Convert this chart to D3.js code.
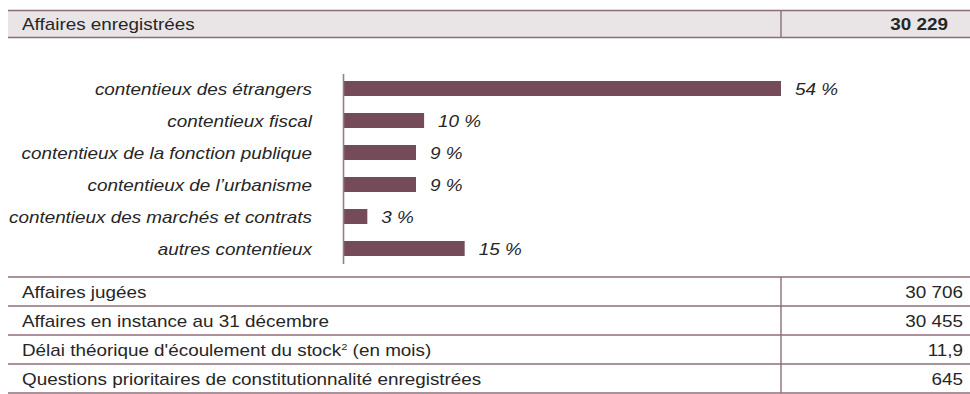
<!DOCTYPE html>
<html>
<head>
<meta charset="utf-8">
<script src="https://cdn.jsdelivr.net/npm/d3@7"></script>
<style>
  html, body { margin: 0; padding: 0; background: #ffffff; }
  svg { display: block; font-family: "Liberation Sans", Arial, sans-serif; }
</style>
</head>
<body>
<svg id="chart" width="970" height="394"></svg>
<script>
// Header row
const headerLabel = "Affaires enregistrées";
const headerValue = "30 229";

// Breakdown of registered cases by type of litigation (%)
const categories = [
  "contentieux des étrangers",
  "contentieux fiscal",
  "contentieux de la fonction publique",
  "contentieux de l\u2019urbanisme",
  "contentieux des marchés et contrats",
  "autres contentieux"
];
const shares = [54, 10, 9, 9, 3, 15];

// Summary table below the chart
const rowLabels = [
  "Affaires jugées",
  "Affaires en instance au 31 décembre",
  "Délai théorique d'écoulement du stock",
  "Questions prioritaires de constitutionnalité enregistrées"
];
const rowValues = ["30 706", "30 455", "11,9", "645"];

const W = 970;
const FS = 16.2;       // type size
const SX = 1.165;      // horizontal widening of the lettering
const lineColor = "#8e6d79";
const barColor = "#754b59";
const textColor = "#262626";
const fillHeader = "#e9e5e6";
const colSplit = 781;

const svg = d3.select("#chart");

// places a text at (x, y) with the widened lettering
function put(sel, x, y) {
  return sel.attr("x", 0).attr("y", 0)
    .attr("transform", `translate(${x},${y}) scale(${SX},1)`)
    .attr("font-size", FS).attr("fill", textColor);
}

// ---- header row ----
const head = svg.append("g");
head.append("rect").attr("x", 8).attr("y", 10).attr("width", W - 8).attr("height", 27.5)
  .attr("fill", fillHeader);
head.append("line").attr("x1", 8).attr("x2", W).attr("y1", 10.5).attr("y2", 10.5)
  .attr("stroke", lineColor).attr("stroke-width", 1.6);
head.append("line").attr("x1", 8).attr("x2", W).attr("y1", 37.5).attr("y2", 37.5)
  .attr("stroke", lineColor).attr("stroke-width", 1.6);
head.append("line").attr("x1", colSplit).attr("x2", colSplit).attr("y1", 10).attr("y2", 38)
  .attr("stroke", lineColor).attr("stroke-width", 1.4);
put(head.append("text"), 22, 30).text(headerLabel);
put(head.append("text"), 948, 30)
  .attr("font-weight", "bold").attr("text-anchor", "end").text(headerValue);

// ---- bar chart ----
const x = d3.scaleLinear().domain([0, 54]).range([343, 781]);
const y = d3.scaleBand().domain(categories).range([81, 256])
  .paddingInner(17 / 32).paddingOuter(0);

const chart = svg.append("g");
chart.selectAll("rect.bar").data(categories).join("rect")
  .attr("class", "bar")
  .attr("x", x(0))
  .attr("y", d => y(d))
  .attr("width", (d, i) => x(shares[i]) - x(0))
  .attr("height", y.bandwidth())
  .attr("fill", barColor);

// vertical axis line
chart.append("line").attr("x1", 343.5).attr("x2", 343.5).attr("y1", 74).attr("y2", 264)
  .attr("stroke", "#9a7c87").attr("stroke-width", 1.6);

// category labels
chart.selectAll("text.cat").data(categories).join("text")
  .attr("class", "cat")
  .each(function (d) {
    put(d3.select(this), 312, y(d) + y.bandwidth() / 2 + 6);
  })
  .attr("text-anchor", "end")
  .attr("font-style", "italic")
  .text(d => d);

// value labels
chart.selectAll("text.val").data(categories).join("text")
  .attr("class", "val")
  .each(function (d, i) {
    put(d3.select(this), x(shares[i]) + 14, y(d) + y.bandwidth() / 2 + 6);
  })
  .attr("font-style", "italic")
  .text((d, i) => shares[i] + " %");

// ---- summary table ----
const rowTop = 277;
const rowH = 29;
const table = svg.append("g");
rowLabels.forEach((lab, i) => {
  const top = rowTop + i * rowH;
  table.append("line").attr("x1", 8).attr("x2", W).attr("y1", top).attr("y2", top)
    .attr("stroke", lineColor).attr("stroke-width", 1.6);
  table.append("line").attr("x1", colSplit).attr("x2", colSplit).attr("y1", top).attr("y2", top + rowH)
    .attr("stroke", lineColor).attr("stroke-width", 1.4);
  const t = put(table.append("text"), 22, top + 20.5).text(lab);
  if (i === 2) {
    t.append("tspan").attr("font-size", 9.5).attr("dy", -6).text("2");
    t.append("tspan").attr("dy", 6).text(" (en mois)");
  }
  put(table.append("text"), 963, top + 20.5)
    .attr("text-anchor", "end").text(rowValues[i]);
});
table.append("line").attr("x1", 8).attr("x2", W)
  .attr("y1", rowTop + rowLabels.length * rowH).attr("y2", rowTop + rowLabels.length * rowH)
  .attr("stroke", lineColor).attr("stroke-width", 1.6);
</script>
</body>
</html>
